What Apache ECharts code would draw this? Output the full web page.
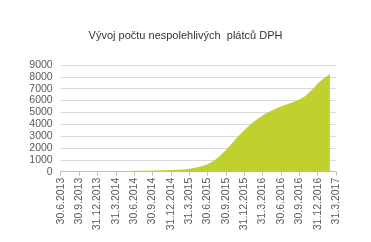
<!DOCTYPE html>
<html>
<head>
<meta charset="utf-8">
<script src="https://cdn.jsdelivr.net/npm/echarts@6/dist/echarts.min.js"></script>
<style>
html,body{margin:0;padding:0;background:#fff;}
#c{width:371px;height:242px;}
</style>
</head>
<body>
<div id="c"></div>
<script>
var titleText = 'Vývoj počtu nespolehlivých  plátců DPH';
// month-end dates, Jun 2013 .. Mar 2017
var months = [
  '30.6.2013','31.7.2013','31.8.2013','30.9.2013','31.10.2013','30.11.2013','31.12.2013',
  '31.1.2014','28.2.2014','31.3.2014','30.4.2014','31.5.2014','30.6.2014','31.7.2014','31.8.2014','30.9.2014','31.10.2014','30.11.2014','31.12.2014',
  '31.1.2015','28.2.2015','31.3.2015','30.4.2015','31.5.2015','30.6.2015','31.7.2015','31.8.2015','30.9.2015','31.10.2015','30.11.2015','31.12.2015',
  '31.1.2016','29.2.2016','31.3.2016','30.4.2016','31.5.2016','30.6.2016','31.7.2016','31.8.2016','30.9.2016','31.10.2016','30.11.2016','31.12.2016',
  '31.1.2017','28.2.2017','31.3.2017'
];
var counts = [
  0,0,0,0,0,0,0,
  0,0,10,30,50,70,80,90,100,110,120,140,
  160,190,250,340,450,620,900,1320,1830,2400,2980,3500,
  3980,4380,4740,5040,5290,5490,5690,5880,6080,6380,6880,7430,
  7880,8250,null
];
var yTicks = [0,1000,2000,3000,4000,5000,6000,7000,8000,9000];

var chart = echarts.init(document.getElementById('c'), null, {renderer:'canvas'});
chart.setOption({
  animation:false,
  title:{
    text:titleText, left:'center', top:25,
    textStyle:{fontFamily:'Liberation Sans, Arial, sans-serif', fontSize:11, fontWeight:'normal', color:'#333333'}
  },
  grid:{left:60.7, right:35, top:65, bottom:70.3, containLabel:false},
  xAxis:{
    type:'category', data:months, boundaryGap:false,
    axisLine:{show:true, lineStyle:{color:'#bfbfbf', width:1}},
    axisTick:{show:true, interval:2, length:4, lineStyle:{color:'#bfbfbf'}},
    axisLabel:{interval:2, rotate:90, margin:6, color:'#595959', fontSize:10.5,
      fontFamily:'Liberation Sans, Arial, sans-serif'},
    splitLine:{show:false}
  },
  yAxis:{
    type:'value', min:yTicks[0], max:yTicks[yTicks.length-1], interval:1000,
    axisLine:{show:false}, axisTick:{show:false},
    axisLabel:{margin:8, color:'#595959', fontSize:10.5, fontFamily:'Liberation Sans, Arial, sans-serif',
      formatter:function(v){return String(v);}},
    splitLine:{lineStyle:{color:'#d9d9d9', width:1}}
  },
  series:[{
    type:'line', data:counts, smooth:false, symbol:'none',
    lineStyle:{width:0, color:'#bfd02f'},
    areaStyle:{color:'#bfd02f', opacity:1}
  }]
});
</script>
</body>
</html>
